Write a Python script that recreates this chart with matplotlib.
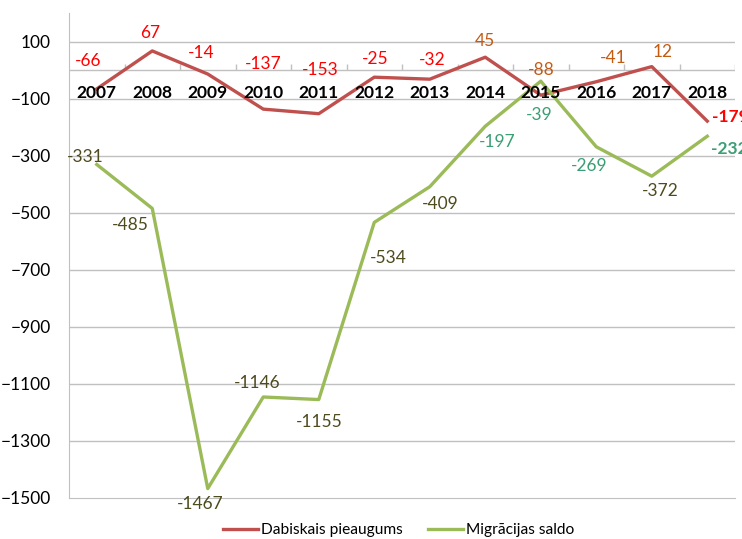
import matplotlib.pyplot as plt

years = ['2007', '2008', '2009', '2010', '2011', '2012', '2013', '2014', '2015', '2016', '2017', '2018']
dabiskais = [-66, 67, -14, -137, -153, -25, -32, 45, -88, -41, 12, -179]
migracijas = [-331, -485, -1467, -1146, -1155, -534, -409, -197, -39, -269, -372, -232]

# label colours / offsets (pixels) as in the original
red_cols = ['#FF0000'] * 7 + ['#C55A11'] * 4 + ['#FF0000']
red_off = [(-9, 28), (-2, 18), (-7, 21), (0, 45), (1, 44), (1, 18), (2, 19),
           (0, 16), (0, 25), (17, 24), (11, 15), (5, 4)]
olive, teal = '#4E4B1F', '#3B9E74'
grn_cols = [olive] * 7 + [teal] * 3 + [olive, teal]
grn_off = [(-12, 7), (-22, -17), (-8, -15), (-6, 14), (0, -22), (14, -36), (10, -17),
           (12, -16), (-2, -34), (-7, -19), (8, -15), (4, -13)]

plt.rcParams['font.family'] = ['Lato', 'DejaVu Sans']

fig = plt.figure(figsize=(7.42, 5.39), dpi=100)
ax = fig.add_axes([0.093, 0.0761, 0.8976, 0.8998])

x = list(range(len(years)))
ax.plot(x, dabiskais, color='#C0504D', lw=2.4, label='Dabiskais pieaugums', zorder=3)
ax.plot(x, migracijas, color='#9BBB59', lw=2.4, label='Migrācijas saldo', zorder=3)

n = len(years)
for i, v in enumerate(dabiskais):
    last = i == n - 1
    ax.annotate(str(v), (i, v), xytext=red_off[i], textcoords='offset pixels',
                ha='left' if last else 'center', va='center', fontsize=12.5, color=red_cols[i],
                fontweight='bold' if last else 'normal', annotation_clip=False, zorder=5)
for i, v in enumerate(migracijas):
    last = i == n - 1
    ax.annotate(str(v), (i, v), xytext=grn_off[i], textcoords='offset pixels',
                ha='left' if last else 'center', va='center', fontsize=12.5, color=grn_cols[i],
                fontweight='bold' if last else 'normal', annotation_clip=False, zorder=5)

# category labels sit just under the zero line
for i, y in enumerate(years):
    ax.text(i, -80, y, ha='center', va='center', fontsize=12.5, fontweight='bold', color='black', zorder=4)

ax.set_xlim(-0.5, n - 0.5)
ax.set_ylim(-1500, 200)
ax.set_yticks(range(-1500, 200, 200))
ax.tick_params(axis='y', length=0, pad=13, labelsize=12.5)
ax.set_xticks([])
for yv in range(-1300, 200, 200):
    ax.axhline(yv, color='#C0C0C0', lw=1, zorder=1)
ax.axhline(0, color='#C0C0C0', lw=1, zorder=1)
ax.vlines([i + 0.5 for i in x], 0, 20, color='#C0C0C0', lw=1, zorder=1)

for s in ['top', 'right']:
    ax.spines[s].set_visible(False)
ax.spines['left'].set_color('#C0C0C0')
ax.spines['bottom'].set_color('#C0C0C0')

ax.legend(loc='center', bbox_to_anchor=(0.495, -0.066), ncol=2, frameon=False,
          fontsize=11.2, handlelength=2.25, handletextpad=0.2, columnspacing=1.6)

fig.savefig('out.png', dpi=100)
